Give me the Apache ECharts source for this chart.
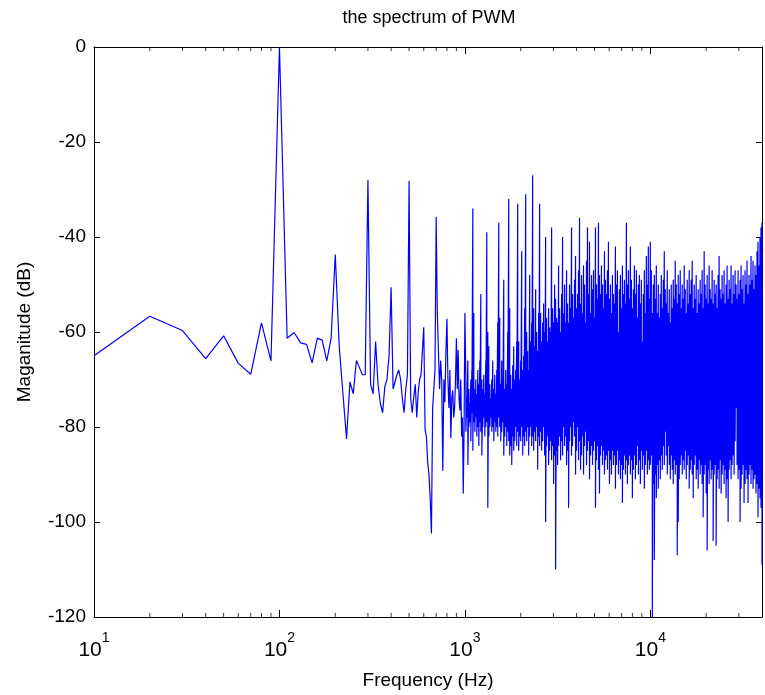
<!DOCTYPE html>
<html>
<head>
<meta charset="utf-8">
<title>the spectrum of PWM</title>
<script src="https://cdn.jsdelivr.net/npm/echarts@6/dist/echarts.min.js"></script>
<style>
  html, body { margin: 0; padding: 0; background: #fff; }
  #chart { width: 765px; height: 695px; }
</style>
</head>
<body>
<div id="chart"></div>
<script>
// FFT bins up to 1 kHz, 10 Hz apart (dB)
const binHz = 10
const lowMag = [
  -65, -56.7, -59.7, -65.6, -60.8, -66.6, -68.9, -58.1, -66.1, 0,
  -61.3, -60.1, -62.3, -62.6, -66.5, -61.3, -61.7, -66.1, -61.3, -43.7,
  -63, -73, -82.5, -70.5, -73, -66, -67.5, -69, -69, -28,
  -71, -73, -62, -71, -75, -77, -71.5, -70, -65, -50.6,
  -72, -72, -69, -68, -70, -74, -77, -72, -69, -28.2,
  -74, -77, -73.7, -71, -78, -72.7, -70, -69, -64, -59,
  -80.6, -82, -87.5, -90, -95, -102.4, -76, -72, -68, -35.8,
  -56, -64, -72, -66, -70.3, -89.2, -70, -74.8, -64, -57.2,
  -70, -76, -68, -82.3, -74, -72.3, -78, -76, -70, -61.3,
  -72, -63.8, -74, -76.5, -70, -82, -78, -94, -80, -56
]

// above 1 kHz the bins are denser than the screen: highest / lowest value per column (dB)
const hfStartHz = 1012
const hfEndHz = 40000
const hfTop = [
  -70, -74, -66, -72, -75, -70, -68, -34, -56, -72,
  -70, -73, -68, -71, -66, -52, -70, -72, -69, -73,
  -66, -39, -60, -63, -71, -74, -70, -66, -72, -69,
  -73, -68, -58, -37, -57, -71, -66, -70, -49, -72,
  -68, -71, -60, -32, -55, -69, -72, -67, -63, -70,
  -68, -62, -33, -62, -70, -66, -43, -68, -65, -55,
  -31, -60, -64, -68, -48, -62, -58, -27, -55, -63,
  -51, -60, -64, -56, -33, -56, -62, -58, -54, -60,
  -40, -57, -62, -55, -59, -60, -38, -55, -58, -50,
  -53, -57, -58, -46, -55, -60, -52, -40, -56, -50,
  -58, -47, -54, -58, -50, -55, -38, -52, -57, -49,
  -44, -55, -52, -47, -36, -54, -48, -56, -46, -50,
  -58, -45, -38, -52, -41, -56, -48, -51, -47, -57,
  -38, -50, -53, -37, -48, -52, -46, -50, -55, -43,
  -49, -52, -47, -41, -53, -50, -56, -48, -52, -54,
  -42, -50, -47, -60, -51, -48, -55, -46, -52, -49,
  -54, -37, -50, -47, -53, -42, -49, -55, -51, -46,
  -52, -47, -57, -50, -48, -54, -49, -62, -52, -47,
  -56, -44, -50, -42, -53, -41, -47, -56, -50, -48,
  -53, -46, -56, -50, -57, -52, -48, -55, -49, -43,
  -51, -54, -47, -56, -51, -58, -50, -55, -49, -53,
  -45, -50, -54, -48, -52, -47, -55, -50, -53, -46,
  -51, -56, -49, -54, -47, -52, -49, -45, -55, -50,
  -53, -48, -56, -51, -54, -49, -52, -47, -55, -43,
  -50, -53, -48, -54, -46, -51, -53, -47, -54, -49,
  -52, -50, -55, -48, -44, -51, -53, -48, -52, -47,
  -54, -50, -46, -53, -49, -51, -46, -54, -48, -52,
  -47, -50, -53, -47, -52, -49, -46, -51, -48, -54,
  -47, -50, -45, -52, -48, -50, -44, -49, -45, -51,
  -46, -48, -43, -41, -46, -40, -38, -37
]
const hfBottom = [
  -81, -78, -88, -80, -79, -83, -77, -85, -79, -81,
  -78, -82, -80, -84, -79, -81, -86, -80, -78, -82,
  -80, -79, -97, -82, -80, -78, -81, -80, -83, -79,
  -81, -80, -82, -78, -80, -83, -81, -79, -86, -82,
  -80, -84, -81, -83, -86, -84, -88, -82, -85, -83,
  -80, -84, -81, -85, -82, -83, -80, -86, -82, -84,
  -81, -83, -80, -86, -82, -80, -84, -82, -85, -81,
  -83, -80, -89, -82, -84, -81, -85, -83, -80, -86,
  -100, -84, -82, -88, -85, -83, -87, -84, -92, -86,
  -110, -85, -88, -84, -82, -87, -83, -86, -80, -84,
  -82, -88, -85, -97, -83, -80, -86, -84, -79, -82,
  -90, -85, -80, -87, -83, -89, -86, -82, -90, -84,
  -81, -88, -85, -83, -91, -86, -84, -88, -85, -83,
  -97, -87, -84, -89, -94, -86, -84, -88, -85, -90,
  -87, -86, -89, -85, -92, -87, -90, -85, -88, -86,
  -93, -88, -85, -90, -87, -91, -88, -96, -89, -86,
  -90, -87, -92, -88, -86, -90, -87, -95, -89, -86,
  -91, -88, -84, -90, -87, -92, -85, -89, -86, -93,
  -88, -85, -90, -87, -89, -88, -86, -120, -92, -108,
  -90, -95, -88, -93, -87, -91, -86, -89, -84, -88,
  -81, -86, -90, -84, -88, -91, -86, -89, -92, -87,
  -90, -88, -107, -100, -91, -88, -86, -90, -87, -89,
  -85, -91, -88, -86, -93, -89, -87, -90, -95, -88,
  -86, -91, -89, -93, -87, -90, -88, -92, -99, -90,
  -88, -94, -106, -89, -92, -87, -91, -89, -104, -90,
  -88, -105, -91, -89, -93, -87, -94, -90, -88, -92,
  -89, -95, -91, -100, -89, -87, -91, -88, -86, -90,
  -83, -76, -88, -91, -89, -100, -93, -90, -88, -96,
  -92, -89, -91, -96, -90, -88, -92, -89, -93, -91,
  -90, -94, -92, -99, -93, -95, -97, -109
]

// log-axis minor ticks (Hz)
const minorTickHz = [
  20, 30, 40, 50, 60, 70, 80, 90,
  200, 300, 400, 500, 600, 700, 800, 900,
  2000, 3000, 4000, 5000, 6000, 7000, 8000, 9000,
  20000, 30000
]
const xRange = [10, 40000]
const yRange = [-120, 0]

const FONT = '"Liberation Sans", Arial, Helvetica, sans-serif'

// build the trace
const points = lowMag.map((v, i) => [binHz * (i + 1), v])
const n = Math.min(hfTop.length, hfBottom.length)
const ratio = hfEndHz / hfStartHz
for (let i = 0; i < n; i++) {
  const f = hfStartHz * Math.pow(ratio, i / (n - 1))
  points.push([f, hfTop[i]], [f, hfBottom[i]])
}

const chart = echarts.init(document.getElementById('chart'), null, { renderer: 'canvas' })

const xLabel = (v) => {
  const e = Math.log10(v)
  if (Math.abs(e - Math.round(e)) > 1e-6) return ''
  return '{b|10}{s|' + Math.round(e) + '}'
}

const axisLine = { show: true, onZero: false, lineStyle: { color: '#000', width: 1 } }

// short inward tick marks at the minor log positions, bottom and top edge
const minorTicks = (yVal, offset) => ({
  type: 'scatter',
  xAxisIndex: 0,
  yAxisIndex: 0,
  data: minorTickHz.map(f => [f, yVal]),
  symbol: 'rect',
  symbolSize: [1, 4],
  symbolOffset: [0, offset],
  itemStyle: { color: '#000' },
  silent: true,
  clip: false,
  z: 3
})

const option = {
  animation: false,
  backgroundColor: '#fff',
  title: {
    text: 'the spectrum of PWM',
    left: 429,
    top: 9,
    padding: 0,
    textAlign: 'center',
    textStyle: { fontFamily: FONT, fontSize: 18, fontWeight: 'normal', color: '#000' }
  },
  grid: { left: 94, right: 1, top: 47, bottom: 68, containLabel: false },
  xAxis: [
    {
      type: 'log',
      logBase: 10,
      min: xRange[0],
      max: xRange[1],
      position: 'bottom',
      name: 'Frequency (Hz)',
      nameLocation: 'middle',
      nameGap: 54,
      nameTextStyle: { fontFamily: FONT, fontSize: 19, color: '#000' },
      axisLine: axisLine,
      axisTick: { show: true, inside: true, length: 7, lineStyle: { color: '#000' } },
      splitLine: { show: false },
      minorTick: { show: false },
      axisLabel: {
        show: true,
        margin: 14,
        formatter: xLabel,
        rich: {
          b: { fontFamily: FONT, fontSize: 21, color: '#000', lineHeight: 30, verticalAlign: 'bottom' },
          s: { fontFamily: FONT, fontSize: 14, color: '#000', lineHeight: 14, verticalAlign: 'top' }
        }
      }
    },
    {
      type: 'log',
      logBase: 10,
      min: xRange[0],
      max: xRange[1],
      position: 'top',
      axisLine: axisLine,
      axisTick: { show: true, inside: true, length: 7, lineStyle: { color: '#000' } },
      axisLabel: { show: false },
      splitLine: { show: false }
    }
  ],
  yAxis: [
    {
      type: 'value',
      min: yRange[0],
      max: yRange[1],
      interval: 20,
      position: 'left',
      name: 'Maganitude (dB)',
      nameLocation: 'middle',
      nameGap: 60,
      nameTextStyle: { fontFamily: FONT, fontSize: 19, color: '#000' },
      axisLine: axisLine,
      axisTick: { show: true, inside: true, length: 6, lineStyle: { color: '#000' } },
      splitLine: { show: false },
      axisLabel: { fontFamily: FONT, fontSize: 19, color: '#000', margin: 8 }
    },
    {
      type: 'value',
      min: yRange[0],
      max: yRange[1],
      interval: 20,
      position: 'right',
      axisLine: axisLine,
      axisTick: { show: true, inside: true, length: 6, lineStyle: { color: '#000' } },
      splitLine: { show: false },
      axisLabel: { show: false }
    }
  ],
  series: [
    {
      name: 'spectrum',
      type: 'line',
      xAxisIndex: 0,
      yAxisIndex: 0,
      data: points,
      showSymbol: false,
      symbol: 'none',
      lineStyle: { color: '#0000ff', width: 1.2 },
      silent: true,
      z: 2
    },
    minorTicks(yRange[0], -2),
    minorTicks(yRange[1], 2)
  ]
}

chart.setOption(option)
</script>
</body>
</html>
